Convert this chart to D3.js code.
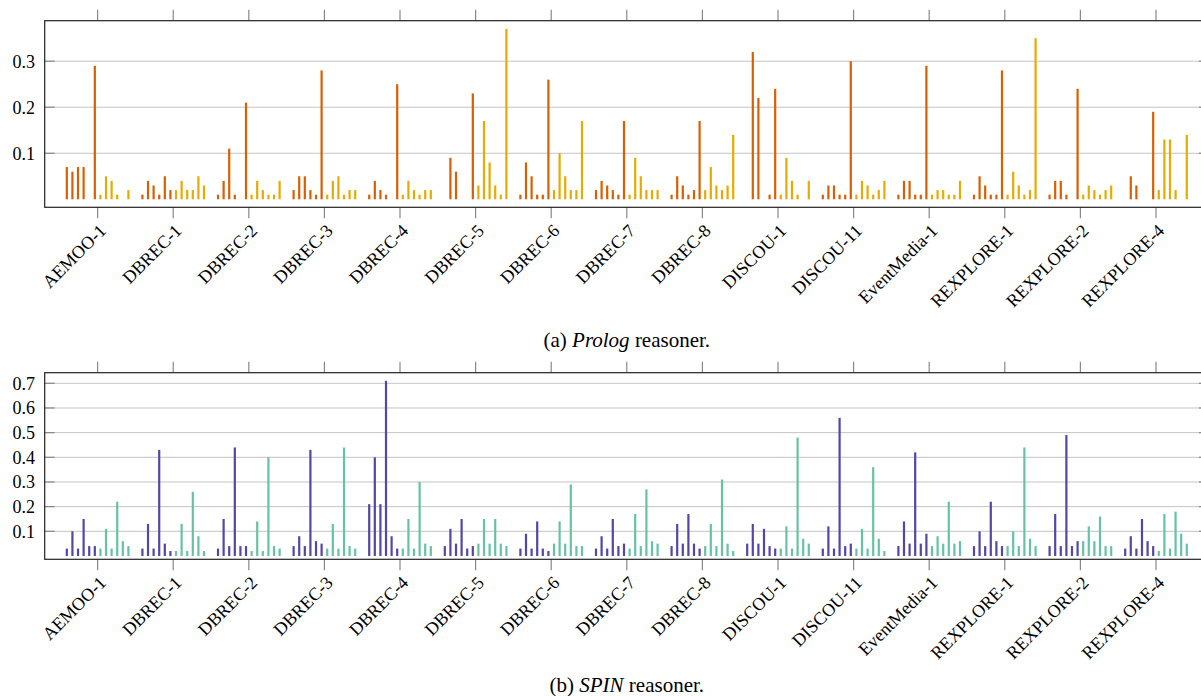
<!DOCTYPE html>
<html><head><meta charset="utf-8">
<script src="https://cdn.jsdelivr.net/npm/d3@7/dist/d3.min.js"></script>
<style>body{margin:0;background:#fff}svg{display:block}</style>
</head><body>
<svg id="c" width="1201" height="696" font-family="'Liberation Serif', 'DejaVu Serif', serif"></svg>
<script>
const categories = ["AEMOO-1","DBREC-1","DBREC-2","DBREC-3","DBREC-4","DBREC-5","DBREC-6","DBREC-7","DBREC-8","DISCOU-1","DISCOU-11","EventMedia-1","REXPLORE-1","REXPLORE-2","REXPLORE-4"];
// 12 bars per category: first 6 dark series, last 6 light series
const prologValues = [
 [0.07,0.06,0.07,0.07,0,0.29, 0.01,0.05,0.04,0.01,0,0.02],
 [0.01,0.04,0.03,0.01,0.05,0.02, 0.02,0.04,0.02,0.02,0.05,0.03],
 [0.01,0.04,0.11,0.01,0,0.21, 0.01,0.04,0.02,0.01,0.01,0.04],
 [0.02,0.05,0.05,0.02,0.01,0.28, 0.01,0.04,0.05,0.01,0.02,0.02],
 [0.01,0.04,0.02,0.01,0,0.25, 0.01,0.04,0.02,0.01,0.02,0.02],
 [0,0.09,0.06,0,0,0.23, 0.03,0.17,0.08,0.03,0.01,0.37],
 [0.01,0.08,0.05,0.01,0.01,0.26, 0.02,0.10,0.05,0.02,0.02,0.17],
 [0.02,0.04,0.03,0.02,0.01,0.17, 0.01,0.09,0.05,0.02,0.02,0.02],
 [0.01,0.05,0.03,0.01,0.02,0.17, 0.02,0.07,0.03,0.02,0.03,0.14],
 [0,0.32,0.22,0,0.01,0.24, 0.01,0.09,0.04,0.01,0,0.04],
 [0.01,0.03,0.03,0.01,0.01,0.30, 0.01,0.04,0.03,0.01,0.02,0.04],
 [0.01,0.04,0.04,0.01,0.01,0.29, 0.01,0.02,0.02,0.01,0.01,0.04],
 [0.01,0.05,0.03,0.01,0.01,0.28, 0.01,0.06,0.03,0.01,0.02,0.35],
 [0.01,0.04,0.04,0.01,0,0.24, 0.01,0.03,0.02,0.01,0.02,0.03],
 [0,0.05,0.03,0,0,0.19, 0.02,0.13,0.13,0.02,0,0.14]
];
const spinValues = [
 [0.03,0.10,0.03,0.15,0.04,0.04, 0.03,0.11,0.03,0.22,0.06,0.04],
 [0.03,0.13,0.03,0.43,0.05,0.02, 0.02,0.13,0.02,0.26,0.08,0.02],
 [0.03,0.15,0.04,0.44,0.04,0.04, 0.02,0.14,0.02,0.40,0.04,0.03],
 [0.04,0.08,0.04,0.43,0.06,0.05, 0.03,0.13,0.03,0.44,0.04,0.03],
 [0.21,0.40,0.21,0.71,0.08,0.03, 0.03,0.15,0.03,0.30,0.05,0.04],
 [0.04,0.11,0.05,0.15,0.03,0.04, 0.05,0.15,0.05,0.15,0.05,0.04],
 [0.03,0.09,0.03,0.14,0.03,0.02, 0.05,0.14,0.05,0.29,0.04,0.04],
 [0.03,0.08,0.03,0.15,0.04,0.05, 0.03,0.17,0.04,0.27,0.06,0.05],
 [0.04,0.13,0.05,0.17,0.05,0.03, 0.04,0.13,0.04,0.31,0.05,0.02],
 [0.05,0.13,0.05,0.11,0.04,0.03, 0.03,0.12,0.03,0.48,0.07,0.05],
 [0.03,0.12,0.03,0.56,0.04,0.05, 0.03,0.11,0.03,0.36,0.07,0.02],
 [0.04,0.14,0.05,0.42,0.05,0.09, 0.04,0.08,0.05,0.22,0.05,0.06],
 [0.04,0.10,0.04,0.22,0.06,0.04, 0.04,0.10,0.04,0.44,0.07,0.04],
 [0.04,0.17,0.04,0.49,0.04,0.06, 0.06,0.12,0.06,0.16,0.04,0.04],
 [0.03,0.08,0.03,0.15,0.06,0.04, 0.02,0.17,0.03,0.18,0.09,0.05]
];
const prologTicks = [0.1,0.2,0.3];
const spinTicks = [0.1,0.2,0.3,0.4,0.5,0.6,0.7];
const captions = [["(a) ","Prolog"," reasoner."],["(b) ","SPIN"," reasoner."]];

const FONT = "'Liberation Serif', 'DejaVu Serif', serif";
const svg = d3.select("#c");
const L = 44.7, R = 1208.9;
const x = d3.scaleLinear().domain([-0.7, 14.7]).range([L, R]);
const off = d3.scaleLinear().domain([0, 11]).range([-0.4074, 0.4074]);

function panel(values, ticks, yDom, top, bottom, colors, cap, capY) {
  const y = d3.scaleLinear().domain(yDom).range([bottom, top]);
  const g = svg.append("g");
  g.selectAll("line.grid").data(ticks).join("line")
    .attr("x1", L).attr("x2", R).attr("y1", d => y(d)).attr("y2", d => y(d))
    .attr("stroke", "#c4c4c4").attr("stroke-width", 1);
  const flat = [];
  values.forEach((arr, i) => arr.forEach((v, j) => flat.push({i, j, v})));
  g.selectAll("rect.bar").data(flat.filter(d => d.v > 0)).join("rect")
    .attr("x", d => x(d.i + off(d.j)) - 1.1).attr("width", 2.2)
    .attr("y", d => y(d.v)).attr("height", d => y(0) - y(d.v))
    .attr("fill", d => d.j < 6 ? colors[0] : colors[1]);
  g.selectAll("line.yt").data(ticks).join("line")
    .attr("x1", L).attr("x2", L + 10).attr("y1", d => y(d)).attr("y2", d => y(d))
    .attr("stroke", "#888").attr("stroke-width", 1.2);
  g.selectAll("line.yt2").data(ticks).join("line")
    .attr("x1", R - 10).attr("x2", R).attr("y1", d => y(d)).attr("y2", d => y(d))
    .attr("stroke", "#888").attr("stroke-width", 1.2);
  g.selectAll("text.yl").data(ticks).join("text")
    .attr("font-family", FONT)
    .attr("x", 35).attr("y", d => y(d)).attr("dy", "0.35em")
    .attr("text-anchor", "end").attr("font-size", 18)
    .text(d => d3.format(".1f")(d));
  const idx = d3.range(categories.length);
  g.selectAll("line.xt").data(idx).join("line")
    .attr("x1", d => x(d)).attr("x2", d => x(d)).attr("y1", top - 11).attr("y2", top)
    .attr("stroke", "#888").attr("stroke-width", 1.2);
  g.selectAll("line.xb").data(idx).join("line")
    .attr("x1", d => x(d)).attr("x2", d => x(d)).attr("y1", bottom).attr("y2", bottom + 11)
    .attr("stroke", "#888").attr("stroke-width", 1.2);
  g.append("rect").attr("x", L).attr("y", top).attr("width", R - L).attr("height", bottom - top)
    .attr("fill", "none").attr("stroke", "#222").attr("stroke-width", 1.2);
  g.selectAll("text.xl").data(idx).join("text")
    .attr("font-family", FONT)
    .attr("transform", d => `translate(${x(d) + 5},${bottom + 20}) rotate(-45)`)
    .attr("text-anchor", "end").attr("dy", "0.35em").attr("font-size", 18)
    .text(d => categories[d]);
  const t = svg.append("text").attr("font-family", FONT).attr("x", (L + R) / 2).attr("y", capY)
    .attr("text-anchor", "middle").attr("font-size", 21);
  t.append("tspan").text(cap[0]);
  t.append("tspan").attr("font-style", "italic").text(cap[1]);
  t.append("tspan").text(cap[2]);
}

panel(prologValues, prologTicks, [-0.0174, 0.388], 20.7, 207.3, ["#d95f02", "#e6ab02"], captions[0], 347);
panel(spinValues, spinTicks, [-0.0135, 0.743], 372.7, 559.3, ["#5446a4", "#66c2a5"], captions[1], 692);
</script>
</body></html>
